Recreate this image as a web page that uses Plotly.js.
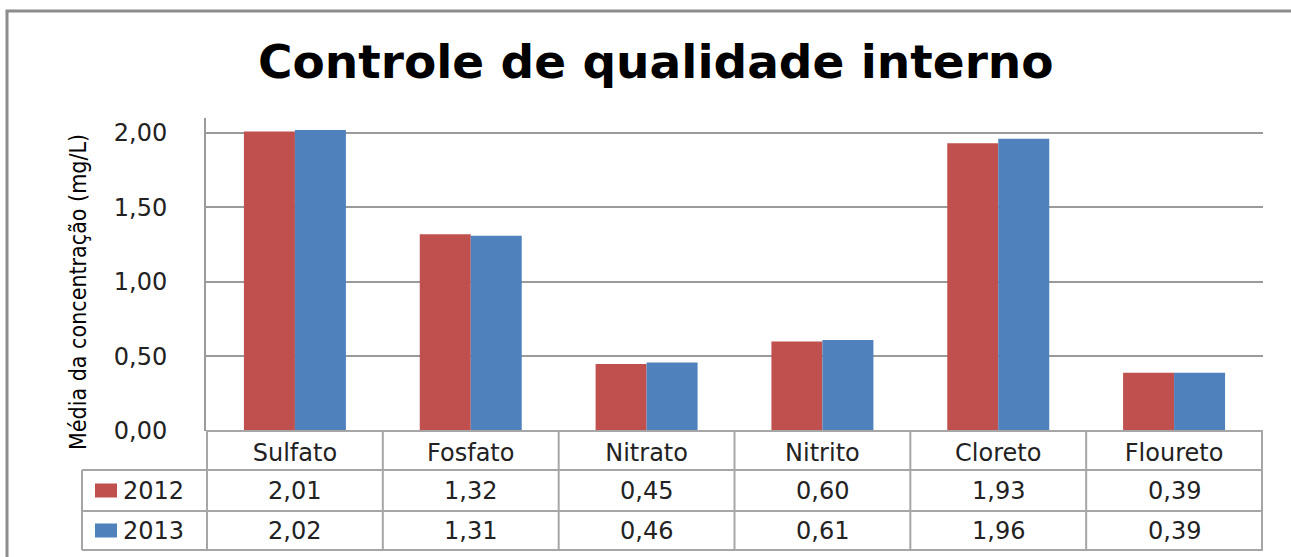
<!DOCTYPE html>
<html>
<head>
<meta charset="utf-8">
<script src="https://cdn.plot.ly/plotly-3.0.1.min.js"></script>
<style>html,body{margin:0;padding:0;background:#fff;}#chart{width:1291px;height:557px;}</style>
</head>
<body>
<div id="chart"></div>
<script>
const categories = ['Sulfato', 'Fosfato', 'Nitrato', 'Nitrito', 'Cloreto', 'Floureto'];
const seriesNames = ['2012', '2013'];
const values2012 = [2.01, 1.32, 0.45, 0.60, 1.93, 0.39];
const values2013 = [2.02, 1.31, 0.46, 0.61, 1.96, 0.39];
const colors = ['#C0504D', '#4F81BD'];

const W = 1291, H = 557;
const L = 206, R = 28, T = 118, B = 126;
const pw = W - L - R, ph = H - T - B;
const px = x => (x - L) / pw;
const py = y => (H - B - y) / ph;

const fmt = v => v.toFixed(2).replace('.', ',');
const tableFont = {family: 'DejaVu Sans, sans-serif', size: 24, color: '#222'};
const lineCol = '#a6a6a6';

const traces = [values2012, values2013].map((vals, i) => ({
  type: 'bar', x: categories, y: vals, name: seriesNames[i],
  marker: {color: colors[i]}, hoverinfo: 'x+y'
}));

const shapes = [];
const annotations = [];
// outer border
shapes.push({type: 'rect', xref: 'paper', yref: 'paper', x0: px(7), x1: px(1310), y0: py(11), y1: py(580),
  line: {color: '#8c8c8c', width: 3}, layer: 'below'});
// table horizontal lines
const rowY = [470, 511, 550];
rowY.forEach(y => shapes.push({type: 'line', xref: 'paper', yref: 'paper', x0: px(82), x1: 1, y0: py(y), y1: py(y),
  line: {color: lineCol, width: 2}}));
// vertical lines at category boundaries
for (let i = 0; i <= categories.length; i++) {
  shapes.push({type: 'line', xref: 'x', yref: 'paper', x0: i - 0.5, x1: i - 0.5, y0: 0, y1: py(550),
    line: {color: lineCol, width: 2}});
}
shapes.push({type: 'line', xref: 'paper', yref: 'paper', x0: px(82), x1: px(82), y0: py(470), y1: py(550),
  line: {color: lineCol, width: 2}});
// legend keys and series names
const rowsVals = [values2012, values2013];
rowsVals.forEach((vals, r) => {
  const cy = (rowY[r] + rowY[r + 1]) / 2;
  shapes.push({type: 'rect', xref: 'paper', yref: 'paper', x0: px(95), x1: px(117), y0: py(cy + 7), y1: py(cy - 7),
    fillcolor: colors[r], line: {width: 0}});
  annotations.push({xref: 'paper', yref: 'paper', x: px(121), y: py(cy), xanchor: 'left', yanchor: 'middle',
    text: seriesNames[r], showarrow: false, font: tableFont});
  vals.forEach((v, i) => annotations.push({xref: 'x', yref: 'paper', x: categories[i], y: py(cy),
    xanchor: 'center', yanchor: 'middle', text: fmt(v), showarrow: false, font: tableFont}));
});
// y axis title
annotations.push({xref: 'paper', yref: 'paper', x: px(78), y: py(292), xanchor: 'center', yanchor: 'middle',
  textangle: -90, text: 'Média da concentração (mg/L)', showarrow: false,
  font: {family: 'Liberation Sans Narrow, DejaVu Sans Condensed, sans-serif', size: 23, color: '#000'}});

const layout = {
  width: W, height: H,
  margin: {l: L, r: R, t: T, b: B, pad: 0},
  paper_bgcolor: '#fff', plot_bgcolor: '#fff',
  separators: ',.',
  showlegend: false,
  barmode: 'group', bargap: 0.42, bargroupgap: 0,
  title: {text: 'Controle de qualidade interno', x: 0.508, xanchor: 'center', y: 1 - 62 / H, yanchor: 'middle',
    font: {family: 'DejaVu Sans, sans-serif', size: 47, color: '#000', weight: 'bold'}},
  xaxis: {type: 'category', showgrid: false, zeroline: false, showline: false, ticks: '',
    tickfont: tableFont, ticklabelstandoff: 5, fixedrange: true},
  yaxis: {range: [0, 2.1], tickvals: [0, 0.5, 1, 1.5, 2], tickformat: '.2f', showgrid: true, gridcolor: '#9a9a9a',
    gridwidth: 1.5, zeroline: false, showline: true, linecolor: '#9a9a9a', linewidth: 2, ticks: '',
    ticklabelstandoff: 32, tickfont: {family: 'DejaVu Sans, sans-serif', size: 24, color: '#222'}, fixedrange: true},
  shapes: shapes, annotations: annotations
};
// bottom axis line of plot
layout.shapes.push({type: 'line', xref: 'paper', yref: 'paper', x0: 0, x1: 1, y0: 0, y1: 0, line: {color: lineCol, width: 2}});

Plotly.newPlot('chart', traces, layout, {displayModeBar: false, staticPlot: false});
</script>
</body>
</html>
